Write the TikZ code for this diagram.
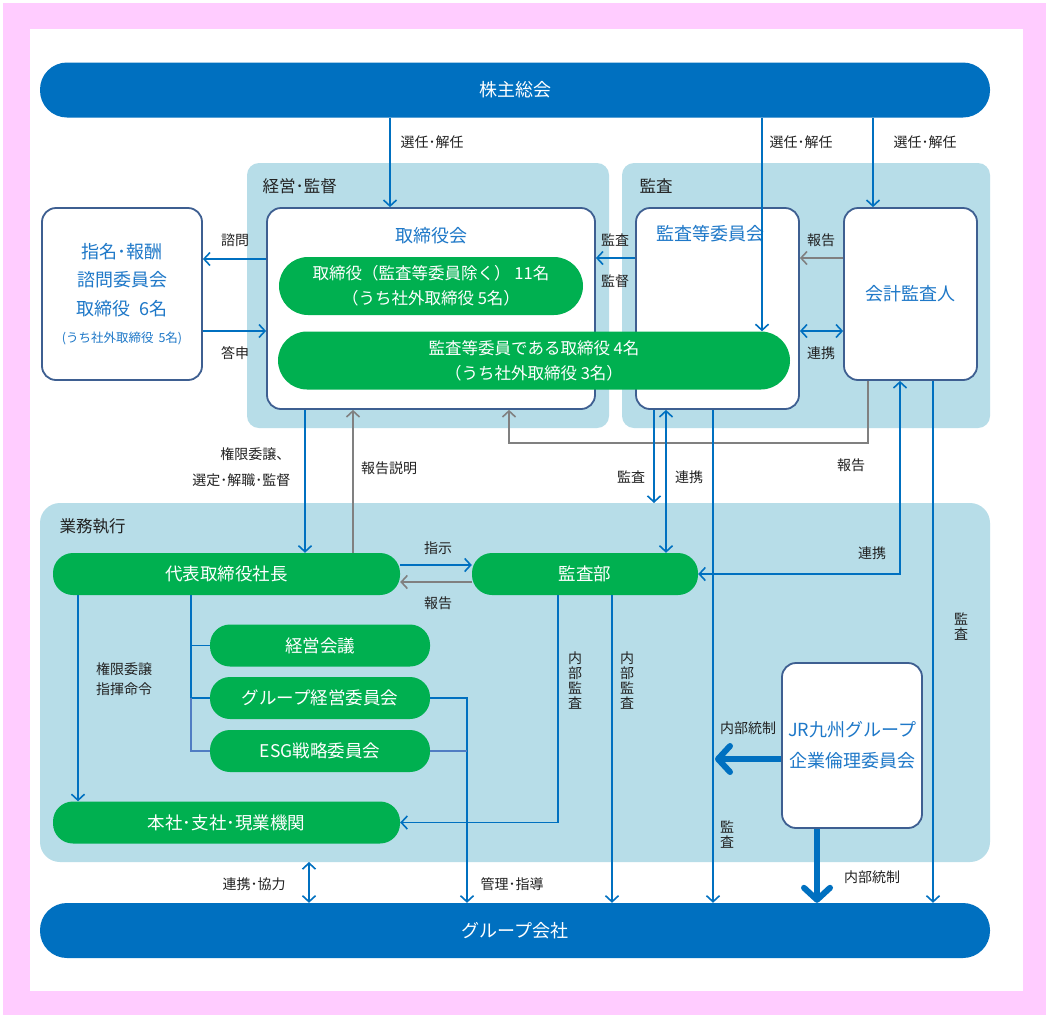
\documentclass[tikz,border=0pt]{standalone}
\usepackage{fontspec}
\setmainfont{Noto Sans CJK JP}
\usepackage{xcolor}
\usetikzlibrary{arrows.meta}

\definecolor{barblue}{RGB}{0,112,192}
\definecolor{treeblue}{RGB}{80,125,195}
\definecolor{panelblue}{RGB}{183,221,232}
\definecolor{pillgreen}{RGB}{0,176,80}
\definecolor{boxline}{RGB}{62,95,145}
\definecolor{titleblue}{RGB}{30,120,200}
\definecolor{reportgray}{RGB}{128,128,128}
\definecolor{framepink}{RGB}{255,204,255}
\definecolor{labelgray}{RGB}{34,34,34}

\begin{document}
\begin{tikzpicture}[x=1pt, y=-1pt,
  bar/.style={fill=barblue, text=white, rounded corners=27pt, minimum height=55pt, font=\fontsize{18}{20}\selectfont},
  pill/.style={fill=pillgreen, text=white, rounded corners=20pt, minimum height=42pt, font=\fontsize{17.5}{20}\selectfont},
  bigpill/.style={pill, rounded corners=29pt, minimum height=58pt, align=center, font=\fontsize{16.5}{25}\selectfont},
  box/.style={draw=boxline, line width=1.8pt, fill=white, rounded corners=14pt},
  boxtitle/.style={text=titleblue, font=\fontsize{18}{20}\selectfont},
  paneltitle/.style={text=labelgray, anchor=west, font=\fontsize{16.5}{20}\selectfont},
  lbl/.style={text=labelgray, align=center, font=\fontsize{14}{16}\selectfont},
  vlbl/.style={lbl, font=\fontsize{14}{15}\selectfont},
  arr/.style={draw=barblue, line width=1.6pt, -{Straight Barb[length=6pt,width=13pt]}},
  darr/.style={draw=barblue, line width=1.6pt, {Straight Barb[length=6pt,width=13pt]}-{Straight Barb[length=6pt,width=13pt]}},
  garr/.style={arr, draw=reportgray},
  link/.style={draw=barblue, line width=1.6pt},
  thickarr/.style={draw=barblue, line width=6pt, -{Straight Barb[round,length=12pt,width=26pt]}}
]

% Frame
\useasboundingbox (0,0) rectangle (1046,1015);
\fill[framepink] (3,3) rectangle (1046,1015);
\fill[white] (30,29) rectangle (1023,991);

% Panels
\fill[panelblue, rounded corners=12pt] (247,163) rectangle (609,428);
\fill[panelblue, rounded corners=12pt] (622,163) rectangle (990,428);
\fill[panelblue, rounded corners=20pt] (40,503) rectangle (990,862);
\node[paneltitle] (mgmttitle) at (259,186) {経営･監督};
\node[paneltitle] (audittitle) at (636,186) {監査};
\node[paneltitle] (exectitle) at (56,526) {業務執行};

% Bars
\node[bar, minimum width=950pt] (soukai) at (515,90) {株主総会};
\node[bar, minimum width=950pt] (group) at (515,930.5) {グループ会社};

% Boxes
\node[box, minimum width=160pt, minimum height=172pt, align=center, text=titleblue,
  font=\fontsize{18}{28.5}\selectfont] (nomi) at (122,294)
  {指名･報酬\\諮問委員会\\取締役\hspace{0.5em}6名\\[-1pt]{\fontsize{12.5}{15}\selectfont (うち社外取締役\hspace{0.4em}5名)}};
\node[box, minimum width=328pt, minimum height=201pt] (board) at (431,308.5) {};
\node[box, minimum width=163pt, minimum height=201pt] (acom) at (717.5,308.5) {};
\node[box, minimum width=133pt, minimum height=172pt, text=titleblue,
  font=\fontsize{18}{20}\selectfont] (auditor) at (910.5,294) {会計監査人};
\node[box, minimum width=140pt, minimum height=165pt, align=center, text=titleblue,
  font=\fontsize{18}{31}\selectfont] (jr) at (852,745.5) {JR九州グループ\\企業倫理委員会};
\node[boxtitle] (boardtitle) at (431,236) {取締役会};
\node[boxtitle] (acomtitle) at (710,234) {監査等委員会};

% Pills
\node[bigpill, minimum width=304pt] (pill1) at (431,286) {取締役（監査等委員除く）\ 11名\\（うち社外取締役\ 5名）};
\node[bigpill, minimum width=512pt] (pill2) at (534,360.5) {監査等委員である取締役\ 4名\\（うち社外取締役\ 3名）};
\node[pill, minimum width=347pt] (ceo) at (226.5,574) {代表取締役社長};
\node[pill, minimum width=226pt] (iad) at (585,574) {監査部};
\node[pill, minimum width=220pt] (keiei) at (320,645.5) {経営会議};
\node[pill, minimum width=220pt] (gmc) at (320,698) {グループ経営委員会};
\node[pill, minimum width=220pt] (esg) at (320,751) {ESG戦略委員会};
\node[pill, minimum width=347pt] (honsha) at (226.5,822.5) {本社･支社･現業機関};

% Free ends
\coordinate (auditend) at (654,503);
\coordinate (bizbottom) at (309,862);
\coordinate (ethicsend) at (715,759);

% Election
\draw[arr] (soukai.south -| 390,0) -- (board.north -| 390,0);
\draw[arr] (soukai.south -| 762,0) -- (pill2.north -| 762,0);
\draw[arr] (soukai.south -| 873,0) -- (auditor.north -| 873,0);
\node[lbl] (elect1) at (432,142) {選任･解任};
\node[lbl] (elect2) at (801,142) {選任･解任};
\node[lbl] (elect3) at (925,142) {選任･解任};

% Board and committees
\draw[arr] (board.west |- 0,259) -- (nomi.east |- 0,259);
\draw[arr] (nomi.east |- 0,331) -- (board.west |- 0,331);
\node[lbl] (consult) at (235,240) {諮問};
\node[lbl] (answer) at (235,353) {答申};
\draw[arr] (acom.west |- 0,258) -- (board.east |- 0,258);
\node[lbl] (audit1) at (615,240) {監査};
\node[lbl] (superv) at (615,281) {監督};
\draw[garr] (auditor.west |- 0,258) -- (acom.east |- 0,258);
\draw[darr] (acom.east |- 0,331) -- (auditor.west |- 0,331);
\node[lbl] (report1) at (821,240) {報告};
\node[lbl] (coop1) at (821,353) {連携};

% Board and execution
\draw[arr] (board.south -| 305,0) -- (ceo.north -| 305,0);
\draw[garr] (ceo.north -| 353,0) -- (board.south -| 353,0);
\node[lbl, anchor=east, align=right, font=\fontsize{14}{26}\selectfont] (deleg1) at (294,467) {権限委譲、\\選定･解職･監督};
\node[lbl] (explain) at (389,468) {報告説明};
\draw[garr] (auditor.south -| 868,0) -- ++(0,62) -| (board.south -| 509,0);
\node[lbl] (report2) at (851,465) {報告};

% Audit links
\draw[arr] (acom.south -| auditend) -- (auditend);
\draw[darr] (acom.south -| 666,0) -- (iad.north -| 666,0);
\node[lbl] (audit2) at (631,477) {監査};
\node[lbl] (coop2) at (689,477) {連携};
\draw[arr] (acom.south -| 713,0) -- (group.north -| 713,0);
\node[vlbl] (audit3) at (727,835) {監\\査};
\draw[darr] (iad.east) -| (auditor.south -| 900,0);
\node[lbl] (coop3) at (872,553) {連携};
\draw[arr] (auditor.south -| 933,0) -- (group.north -| 933,0);
\node[vlbl] (audit4) at (961,627) {監\\査};

% Execution
\draw[arr] (ceo.east |- 0,565) -- (iad.west |- 0,565);
\draw[garr] (iad.west |- 0,582) -- (ceo.east |- 0,582);
\node[lbl] (order) at (438,548) {指示};
\node[lbl] (report3) at (438,603) {報告};
\draw[link] (ceo.south -| 191,0) |- (keiei.west);
\draw[link] (ceo.south -| 191,0) |- (gmc.west);
\draw[link, draw=treeblue] (gmc.west -| 191,0) |- (esg.west);
\draw[arr] (ceo.south -| 78,0) -- (honsha.north -| 78,0);
\node[lbl, font=\fontsize{14}{20.5}\selectfont] (deleg2) at (124,679) {権限委譲\\指揮命令};
\draw[arr] (iad.south -| 558,0) |- (honsha.east);
\node[vlbl] (inaudit1) at (575,681) {内\\部\\監\\査};
\draw[arr] (iad.south -| 612,0) -- (group.north -| 612,0);
\node[vlbl] (inaudit2) at (627,681) {内\\部\\監\\査};
\draw[arr] (gmc.east) -| (group.north -| 467,0);
\draw[link, draw=treeblue] (esg.east) -- (esg.east -| 467,0);
\node[lbl] (guide) at (512,884) {管理･指導};
\draw[darr] (bizbottom) -- (group.north -| bizbottom);
\node[lbl] (coop4) at (254,884) {連携･協力};

% Ethics committee
\draw[thickarr] (jr.west |- ethicsend) -- (ethicsend);
\node[lbl] (ctrl1) at (748,728) {内部統制};
\draw[thickarr] (jr.south -| 817,0) -- (group.north -| 817,0);
\node[lbl] (ctrl2) at (872,877) {内部統制};

\end{tikzpicture}
\end{document}
